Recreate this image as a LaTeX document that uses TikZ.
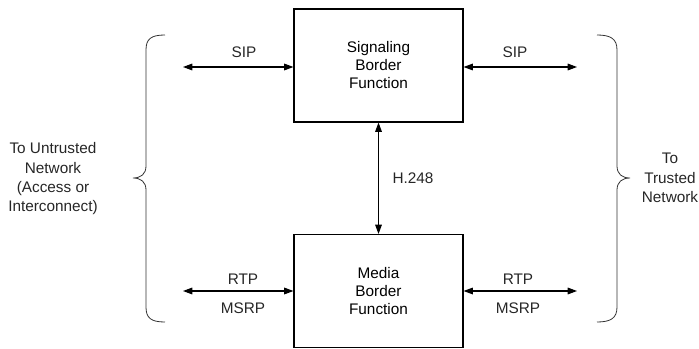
\documentclass[tikz,border=0pt]{standalone}
\usepackage{fontspec}
\setmainfont{Liberation Sans}
\usepackage{tikz}
\usetikzlibrary{arrows.meta,positioning,calc}

\begin{document}
\begin{tikzpicture}[
  x=0.75pt,y=-0.75pt,
  sbcbox/.style={draw,line width=0.8pt,minimum width=126.75pt,minimum height=84.75pt,
    align=center,inner sep=0pt,font=\fontsize{11.5}{13.5}\selectfont},
  sbcarrow/.style={line width=0.8pt,{Triangle[length=7pt,width=5pt]}-{Triangle[length=7pt,width=5pt]}},
  sbclabel/.style={font=\fontsize{11.5}{14.5}\selectfont,align=center,text=black!85},
  sbcbrace/.style={line width=0.6pt,black!80}
]
  \useasboundingbox (0,0) rectangle (699,349);
  % border function boxes
  \node[sbcbox] (sbf) at (378.5,65.5) {Signaling\\Border\\Function};
  \node[sbcbox] (mbf) at (378.5,291) {Media\\Border\\Function};
  % free ends of the side arrows
  \coordinate (sipL) at (183,67);
  \coordinate (sipR) at (577,67);
  \coordinate (rtpL) at (183,291);
  \coordinate (rtpR) at (577,291);
  % signaling paths
  \draw[sbcarrow] (sipL) -- (sipL -| sbf.west);
  \draw[sbcarrow] (sbf.east |- sipR) -- (sipR);
  \node[sbclabel] (sipLtxt) at (244,52) {SIP};
  \node[sbclabel] (sipRtxt) at (515,52) {SIP};
  % media paths
  \draw[sbcarrow] (rtpL) -- (mbf.west);
  \draw[sbcarrow] (mbf.east) -- (rtpR);
  \node[sbclabel] (rtpLtxt) at (243,279) {RTP};
  \node[sbclabel] (msrpLtxt) at (243,308) {MSRP};
  \node[sbclabel] (rtpRtxt) at (518,279) {RTP};
  \node[sbclabel] (msrpRtxt) at (518,308) {MSRP};
  % control between the two functions
  \draw[sbcarrow] (sbf.south) -- (mbf.north);
  \node[sbclabel] (h248) at (413,178) {H.248};
  % network side braces
  \draw[sbcbrace] (165,35) .. controls (151,35) and (146,39) .. (146,50) -- (146,166)
    .. controls (146,174) and (141,178) .. (133,178)
    .. controls (141,178) and (146,182) .. (146,190) -- (146,307)
    .. controls (146,318) and (151,322) .. (165,322);
  \draw[sbcbrace] (597,35) .. controls (611,35) and (617,39) .. (617,50) -- (617,166)
    .. controls (617,174) and (622,178) .. (630,178)
    .. controls (622,178) and (617,182) .. (617,190) -- (617,307)
    .. controls (617,318) and (611,322) .. (597,322);
  \node[sbclabel] (untrusted) at (53,179) {To Untrusted\\Network\\(Access or\\Interconnect)};
  \node[sbclabel] (trusted) at (670,178) {To\\Trusted\\Network};
\end{tikzpicture}
\end{document}
